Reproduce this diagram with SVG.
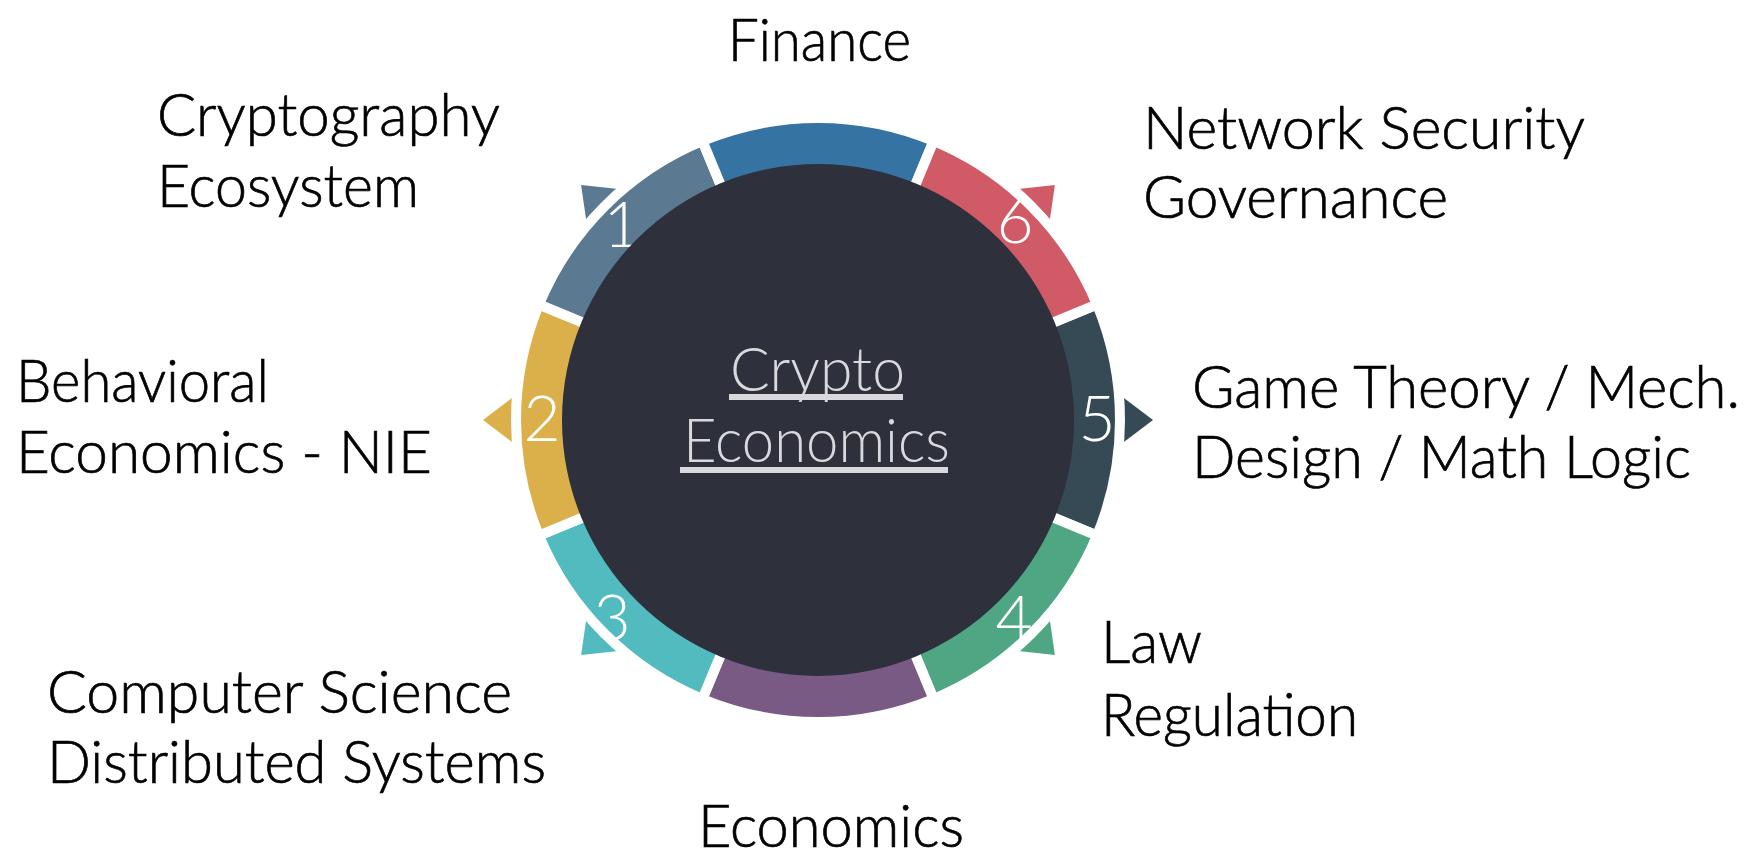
<svg xmlns="http://www.w3.org/2000/svg" width="1753" height="852" viewBox="0 0 1753 852">
<style>
.seg{stroke:#ffffff;stroke-width:10;stroke-linejoin:miter}
.lbl{font-family:Lato,"Liberation Sans",sans-serif;font-weight:300;font-size:60px;fill:#000000;stroke:#000000;stroke-width:0.7px}
.num{font-family:Lato,"Liberation Sans",sans-serif;font-weight:300;font-size:64px;fill:#ffffff;text-anchor:middle}
.ctr{font-family:Lato,"Liberation Sans",sans-serif;font-weight:300;font-size:62px;fill:#d8d8dd}
</style>
<rect x="0" y="0" width="1753" height="852" fill="#ffffff"/>
<g id="connectors">
<polygon fill="#364a55" points="1153,420 1108,386 1108,454"/>
<polygon fill="#4fa683" points="1054.88,654.88 999.02,649.10 1047.10,601.02"/>
<polygon fill="#52bbc0" points="581.12,654.88 588.90,601.02 636.98,649.10"/>
<polygon fill="#dbb04b" points="483,420 528,386 528,454"/>
<polygon fill="#5b7990" points="581.12,185.12 636.98,190.90 588.90,238.98"/>
<polygon fill="#d05b67" points="1054.88,185.12 1047.10,238.98 999.02,190.90"/>
</g>
<g id="ring">
<path id="seg5" class="seg" fill="#364a55" d="M1097.01,304.43 A302,302 0 0 1 1097.01,535.57 L1030.49,508.02 A230,230 0 0 0 1030.49,331.98 Z"/>
<path id="seg4" class="seg" fill="#4fa683" d="M1097.01,535.57 A302,302 0 0 1 933.57,699.01 L906.02,632.49 A230,230 0 0 0 1030.49,508.02 Z"/>
<path id="seg-econ" class="seg" fill="#785a84" d="M933.57,699.01 A302,302 0 0 1 702.43,699.01 L729.98,632.49 A230,230 0 0 0 906.02,632.49 Z"/>
<path id="seg3" class="seg" fill="#52bbc0" d="M702.43,699.01 A302,302 0 0 1 538.99,535.57 L605.51,508.02 A230,230 0 0 0 729.98,632.49 Z"/>
<path id="seg2" class="seg" fill="#dbb04b" d="M538.99,535.57 A302,302 0 0 1 538.99,304.43 L605.51,331.98 A230,230 0 0 0 605.51,508.02 Z"/>
<path id="seg1" class="seg" fill="#5b7990" d="M538.99,304.43 A302,302 0 0 1 702.43,140.99 L729.98,207.51 A230,230 0 0 0 605.51,331.98 Z"/>
<path id="seg-fin" class="seg" fill="#3573a3" d="M702.43,140.99 A302,302 0 0 1 933.57,140.99 L906.02,207.51 A230,230 0 0 0 729.98,207.51 Z"/>
<path id="seg6" class="seg" fill="#d05b67" d="M933.57,140.99 A302,302 0 0 1 1097.01,304.43 L1030.49,331.98 A230,230 0 0 0 906.02,207.51 Z"/>
</g>
<g id="numbers">
<text class="num" x="622" y="247">1</text>
<text class="num" x="542" y="441">2</text>
<text class="num" x="612" y="640">3</text>
<text class="num" x="1014" y="641">4</text>
<text class="num" x="1097" y="441">5</text>
<text class="num" x="1015" y="243">6</text>
</g>
<g id="center">
<circle cx="818" cy="420" r="256" fill="#2e303b"/>
<text class="ctr" x="730" y="391" textLength="175" lengthAdjust="spacingAndGlyphs">Crypto</text>
<rect x="729" y="394" width="174" height="6" fill="#d8d8dd"/>
<text class="ctr" x="683" y="462" textLength="267" lengthAdjust="spacingAndGlyphs">Economics</text>
<rect x="680" y="467" width="268" height="6" fill="#d8d8dd"/>
</g>
<g id="labels">
<text id="finance" class="lbl" x="728" y="61" textLength="183" lengthAdjust="spacingAndGlyphs">Finance</text>
<g id="node1"><text class="lbl" x="157" y="136" textLength="343" lengthAdjust="spacingAndGlyphs">Cryptography</text><text class="lbl" x="157" y="207" textLength="262" lengthAdjust="spacingAndGlyphs">Ecosystem</text></g>
<g id="node6"><text class="lbl" x="1143" y="149" textLength="442" lengthAdjust="spacingAndGlyphs">Network Security</text><text class="lbl" x="1143" y="218" textLength="305" lengthAdjust="spacingAndGlyphs">Governance</text></g>
<g id="node2"><text class="lbl" x="16" y="402" textLength="253" lengthAdjust="spacingAndGlyphs">Behavioral</text><text class="lbl" x="16" y="473" textLength="416" lengthAdjust="spacingAndGlyphs">Economics - NIE</text></g>
<g id="node5"><text class="lbl" x="1192" y="408" textLength="548" lengthAdjust="spacingAndGlyphs">Game Theory / Mech.</text><text class="lbl" x="1192" y="478" textLength="499" lengthAdjust="spacingAndGlyphs">Design / Math Logic</text></g>
<g id="node4"><text class="lbl" x="1101" y="663" textLength="101" lengthAdjust="spacingAndGlyphs">Law</text><text class="lbl" x="1101" y="736" textLength="257" lengthAdjust="spacingAndGlyphs">Regulation</text></g>
<g id="node3"><text class="lbl" x="47" y="713" textLength="465" lengthAdjust="spacingAndGlyphs">Computer Science</text><text class="lbl" x="47" y="783" textLength="499" lengthAdjust="spacingAndGlyphs">Distributed Systems</text></g>
<text id="economics" class="lbl" x="698" y="847" textLength="266" lengthAdjust="spacingAndGlyphs">Economics</text>
</g>
</svg>
